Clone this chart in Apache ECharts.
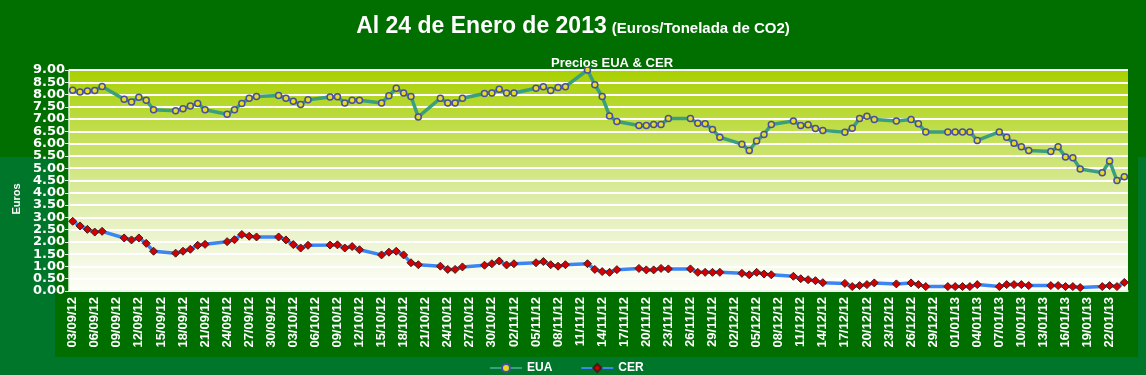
<!DOCTYPE html>
<html>
<head>
<meta charset="utf-8">
<script src="https://cdn.jsdelivr.net/npm/echarts@6/dist/echarts.min.js"></script>
<style>
  html, body { margin: 0; padding: 0; background: #006f00; }
  #chart { width: 1146px; height: 375px; }
</style>
</head>
<body>
<div id="chart"></div>
<script>
// dias naturales del 03/09/12 al 24/01/13 (144), null = sin cotizacion
var startDay = Date.UTC(2012, 8, 3);
var numDays = 144;

var eua = [
  8.18, 8.10, 8.14, 8.17, 8.33, null, null,
  7.81, 7.70, 7.89, 7.77, 7.38, null, null,
  7.34, 7.42, 7.53, 7.64, 7.38, null, null,
  7.20, 7.38, 7.64, 7.85, 7.92, null, null,
  7.96, 7.85, 7.73, 7.60, 7.79, null, null,
  7.90, 7.91, 7.66, 7.77, 7.77, null, null,
  7.66, 7.95, 8.26, 8.06, 7.92, 7.09, null,
  null, 7.85, 7.66, 7.66, 7.85, null, null,
  8.04, 8.06, 8.22, 8.06, 8.06, null, null,
  8.26, 8.32, 8.17, 8.29, 8.32, null, null,
  9.00, 8.40, 7.92, 7.13, 6.90, null, null,
  6.74, 6.74, 6.78, 6.78, 7.02, null, null,
  7.02, 6.83, 6.81, 6.58, 6.26, null, null,
  5.98, 5.72, 6.11, 6.37, 6.78, null, null,
  6.92, 6.74, 6.77, 6.62, 6.54, null, null,
  6.47, 6.63, 7.02, 7.12, 6.98, null, null,
  6.92, null, 6.98, 6.81, 6.48, null, null,
  6.48, 6.48, 6.48, 6.48, 6.13, null, null,
  6.48, 6.26, 6.02, 5.87, 5.72, null, null,
  5.68, 5.87, 5.46, 5.43, 4.97, null, null,
  4.82, 5.29, 4.50, 4.65
];

var cer = [
  2.84, 2.65, 2.51, 2.40, 2.43, null, null,
  2.16, 2.08, 2.16, 1.94, 1.62, null, null,
  1.54, 1.62, 1.70, 1.86, 1.90, null, null,
  2.01, 2.09, 2.30, 2.23, 2.20, null, null,
  2.20, 2.08, 1.89, 1.75, 1.86, null, null,
  1.87, 1.88, 1.75, 1.81, 1.68, null, null,
  1.47, 1.58, 1.62, 1.47, 1.15, 1.07, null,
  null, 1.01, 0.88, 0.88, 0.98, null, null,
  1.05, 1.11, 1.22, 1.06, 1.11, null, null,
  1.15, 1.20, 1.07, 1.01, 1.07, null, null,
  1.11, 0.88, 0.79, 0.76, 0.87, null, null,
  0.92, 0.86, 0.86, 0.92, 0.90, null, null,
  0.90, 0.76, 0.76, 0.76, 0.76, null, null,
  0.72, 0.66, 0.76, 0.69, 0.66, null, null,
  0.60, 0.50, 0.46, 0.42, 0.34, null, null,
  0.31, 0.18, 0.22, 0.26, 0.33, null, null,
  0.29, null, 0.33, 0.26, 0.18, null, null,
  0.18, 0.18, 0.18, 0.18, 0.26, null, null,
  0.18, 0.26, 0.26, 0.26, 0.22, null, null,
  0.22, 0.22, 0.18, 0.18, 0.14, null, null,
  0.18, 0.22, 0.18, 0.35
];

// etiquetas del eje Y
var yTicks = [0, 0.5, 1, 1.5, 2, 2.5, 3, 3.5, 4, 4.5, 5, 5.5, 6, 6.5, 7, 7.5, 8, 8.5, 9];

function pad(n) { return n < 10 ? '0' + n : '' + n; }
var days = [];
for (var i = 0; i < numDays; i++) {
  var d = new Date(startDay + i * 86400000);
  days.push(pad(d.getUTCDate()) + '/' + pad(d.getUTCMonth() + 1) + '/' + pad(d.getUTCFullYear() % 100));
}

var sans = '"Liberation Sans", Arial, sans-serif';
var lightGreen = '#00762a';

var chart = echarts.init(document.getElementById('chart'));
chart.setOption({
  animation: false,
  backgroundColor: '#006f00',
  title: [
    {
      left: 'center',
      top: 5,
      text: '{a|Al 24 de Enero de 2013} {b|(Euros/Tonelada de CO2)}',
      textStyle: {
        rich: {
          a: { fontSize: 23, fontWeight: 'bold', color: '#fff', fontFamily: sans, lineHeight: 28, verticalAlign: 'bottom' },
          b: { fontSize: 15, fontWeight: 'bold', color: '#fff', fontFamily: sans, lineHeight: 20, verticalAlign: 'bottom', padding: [0, 0, 2, 0] }
        }
      }
    },
    {
      left: 607,
      top: 52,
      textAlign: 'center',
      text: 'Precios EUA & CER',
      textStyle: { fontSize: 13, fontWeight: 'bold', color: '#fff', fontFamily: sans }
    }
  ],
  legend: {
    top: 357,
    left: 484,
    itemWidth: 32,
    itemHeight: 10,
    itemGap: 28,
    textStyle: { color: '#fff', fontSize: 12, fontWeight: 'bold', fontFamily: sans },
    data: ['EUA', 'CER']
  },
  grid: {
    left: 69, right: 18, top: 70, bottom: 84,
    show: true,
    borderWidth: 0,
    backgroundColor: {
      type: 'linear', x: 0, y: 0, x2: 0, y2: 1,
      colorStops: [
        { offset: 0, color: '#a9d000' },
        { offset: 0.3, color: '#c3df55' },
        { offset: 0.6, color: '#dfedac' },
        { offset: 0.85, color: '#f3f8e2' },
        { offset: 1, color: '#fefffa' }
      ]
    }
  },
  xAxis: {
    type: 'category',
    data: days,
    boundaryGap: true,
    axisLine: { lineStyle: { color: '#e8f0e0', width: 1.5 } },
    axisTick: { interval: 2, length: 5, lineStyle: { color: '#e8f0e0' } },
    axisLabel: {
      interval: 2, rotate: 90, margin: 6,
      color: '#fff', fontSize: 13, fontWeight: 'bold', fontFamily: sans
    },
    splitLine: { show: false }
  },
  yAxis: {
    type: 'value',
    min: 0, max: 9, interval: 0.5,
    axisLine: { show: true, lineStyle: { color: '#e8f0e0', width: 1.5 } },
    axisTick: { show: true, length: 4, lineStyle: { color: '#e8f0e0' } },
    axisLabel: { show: false },
    splitLine: { lineStyle: { color: '#ffffff', width: 2 } }
  },
  series: [
    {
      name: 'EUA',
      type: 'line',
      data: eua,
      connectNulls: true,
      showAllSymbol: true,
      symbol: 'circle',
      symbolSize: 6,
      lineStyle: { color: '#3a9f7c', width: 3.5 },
      itemStyle: { color: '#e4dc20', borderColor: '#4a4ea0', borderWidth: 1.5 }
    },
    {
      name: 'CER',
      type: 'line',
      data: cer,
      connectNulls: true,
      showAllSymbol: true,
      symbol: 'diamond',
      symbolSize: 8,
      lineStyle: { color: '#3d86f2', width: 3.5 },
      itemStyle: { color: '#d20000', borderColor: '#4a1a1a', borderWidth: 1 }
    }
  ]
});

// fondos, titulo del eje y etiquetas Y (ECharts oculta las que se solapan)
var graphics = [
  { type: 'rect', id: 'bg1', z: -5, silent: true, shape: { x: 0, y: 157, width: 55, height: 218 }, style: { fill: lightGreen } },
  { type: 'rect', id: 'bg2', z: -5, silent: true, shape: { x: 1138, y: 157, width: 8, height: 218 }, style: { fill: lightGreen } },
  { type: 'rect', id: 'bg3', z: -5, silent: true, shape: { x: 0, y: 357, width: 1146, height: 18 }, style: { fill: lightGreen } },
  {
    type: 'text', id: 'yname', x: 17, y: 199, rotation: Math.PI / 2,
    style: { text: 'Euros', fill: '#fff', font: 'bold 11px ' + sans, textAlign: 'center', textVerticalAlign: 'middle' }
  }
];
yTicks.forEach(function (v, k) {
  graphics.push({
    type: 'text', id: 'yl' + k,
    x: 65, y: chart.convertToPixel({ yAxisIndex: 0 }, v),
    style: {
      text: v.toFixed(2), fill: '#fff',
      font: 'bold 13px "DejaVu Sans", sans-serif',
      textAlign: 'right', textVerticalAlign: 'middle'
    }
  });
});
chart.setOption({ graphic: graphics });
</script>
</body>
</html>
